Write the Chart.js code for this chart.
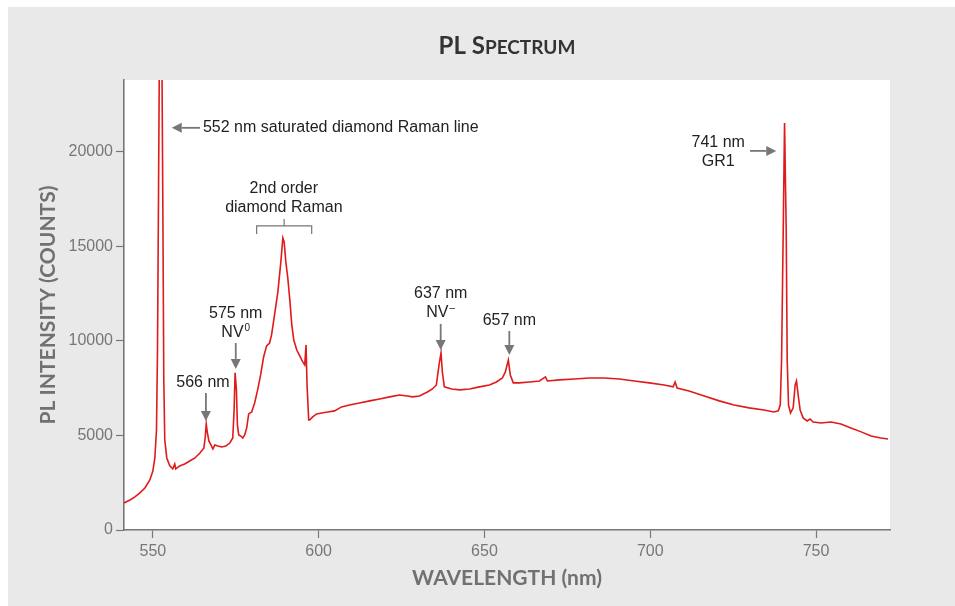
<!DOCTYPE html>
<html>
<head>
<meta charset="utf-8">
<script src="https://cdn.jsdelivr.net/npm/chart.js@4/dist/chart.umd.min.js"></script>
<style>
  html, body { margin: 0; padding: 0; background: #fff; }
  #panel { position: absolute; left: 8px; top: 7px; right: 0; bottom: 0; background: #e9e9e9; }
  #wrap { position: absolute; left: 0; top: 0; width: 955px; height: 606px; }
</style>
</head>
<body>
<div id="panel"></div>
<div id="wrap"><canvas id="plChart" width="955" height="606"></canvas></div>
<script>
// PL spectrum, wavelength (nm) vs counts
const wavelengths = [
  541.3, 543.1, 544.6, 546.1, 547.6, 549.1, 550.0, 550.6, 551.1, 551.4,
  551.7, 552.0, 552.7, 553.0, 553.3, 553.6, 554.2, 555.1, 556.0, 556.6,
  556.9, 558.1, 559.6, 561.1, 562.7, 564.2, 565.4, 565.8, 566.1, 566.4,
  566.9, 567.5, 568.1, 568.7, 569.6, 570.8, 572.0, 573.2, 574.1, 574.5,
  574.8, 575.2, 575.5, 575.9, 576.5, 577.1, 577.7, 578.3, 578.9, 579.8,
  580.7, 581.6, 582.5, 583.4, 584.3, 585.2, 585.8, 586.7, 587.7, 588.6,
  589.2, 589.6, 590.1, 590.7, 591.3, 591.9, 592.5, 593.4, 594.3, 595.2,
  595.8, 596.2, 596.5, 597.0, 597.3, 598.2, 599.4, 600.9, 602.7, 604.8,
  606.9, 609.3, 612.3, 615.4, 618.4, 621.4, 624.4, 626.8, 628.3, 630.4,
  632.8, 634.3, 635.5, 636.3, 636.9, 637.3, 637.9, 640.1, 642.5, 645.5,
  648.5, 651.5, 653.6, 655.4, 656.3, 657.2, 657.8, 658.7, 660.5, 663.6,
  666.6, 668.4, 669.0, 672.6, 677.1, 681.6, 686.1, 690.7, 695.2, 699.7,
  704.2, 706.9, 707.5, 708.1, 711.7, 716.3, 720.8, 725.3, 729.8, 734.3,
  737.3, 738.6, 739.2, 739.6, 740.1, 740.5, 741.0, 741.3, 741.7, 742.3,
  743.1, 743.7, 744.1, 744.6, 745.2, 746.1, 747.3, 748.2, 749.1, 751.5,
  754.5, 757.5, 760.5, 763.6, 766.6, 769.6, 771.7
];
const counts = [
  1430, 1590, 1750, 1960, 2220, 2650, 3120, 3810, 5290, 9520,
  17460, 26000, 26000, 17460, 7940, 4760, 3810, 3390, 3230, 3490,
  3230, 3390, 3490, 3650, 3810, 4070, 4340, 4920, 5610, 5190,
  4710, 4500, 4290, 4500, 4440, 4390, 4440, 4600, 4870, 6350,
  8310, 7410, 5560, 5030, 4970, 4870, 5030, 5400, 6140, 6240,
  6720, 7410, 8200, 9150, 9740, 9890, 10320, 11380, 12590, 14180,
  15450, 15240, 14180, 13330, 12170, 10850, 10050, 9520, 9210, 8890,
  8730, 9790, 7670, 5820, 5820, 5980, 6140, 6190, 6240, 6300,
  6510, 6610, 6720, 6830, 6930, 7040, 7140, 7090, 7040, 7090,
  7300, 7460, 7670, 8730, 9370, 8360, 7570, 7460, 7410, 7460,
  7570, 7670, 7830, 8040, 8360, 8990, 8200, 7780, 7780, 7830,
  7880, 8100, 7880, 7940, 7990, 8040, 8040, 7990, 7880, 7780,
  7670, 7570, 7830, 7510, 7350, 7090, 6830, 6610, 6460, 6350,
  6240, 6300, 6610, 8990, 15870, 21530, 15870, 8990, 6610, 6190,
  6460, 7670, 7880, 7140, 6350, 5930, 5770, 5870, 5710, 5660,
  5710, 5610, 5400, 5190, 4970, 4870, 4810
];
const xTicks = [550, 600, 650, 700, 750];
const yTicks = [0, 5000, 10000, 15000, 20000];

// peak labels, anchored in data units (nm, counts)
const notes = [
  { lines: ['552 nm saturated diamond Raman line'], at: [565.1, 21270], align: 'left',
    arrow: [[564.2, 21270], [555.7, 21270]] },
  { lines: ['566 nm'], at: [565.1, 7780], arrow: [[566.0, 7250], [566.0, 5770]] },
  { lines: ['575 nm', 'NV|0'], at: [575.0, 11430], arrow: [[575.0, 9890], [575.0, 8520]] },
  { lines: ['2nd order', 'diamond Raman'], at: [589.5, 18040] },
  { lines: ['637 nm', 'NV|\u2013'], at: [636.8, 12490], arrow: [[636.8, 10900], [636.8, 9520]] },
  { lines: ['657 nm'], at: [657.5, 11060], arrow: [[657.5, 10530], [657.5, 9260]] },
  { lines: ['741 nm', 'GR1'], at: [720.5, 20480], arrow: [[730.1, 20050], [738.0, 20050]] }
];
const bracket = { from: 581.3, to: 597.9, y: 16085, drop: 425, rise: 370 };

const GREY = '#777';
const INK = '#222';

function arrowTo(ctx, x1, y1, x2, y2) {
  const a = Math.atan2(y2 - y1, x2 - x1);
  const head = 10, half = 5;
  ctx.beginPath();
  ctx.moveTo(x1, y1);
  ctx.lineTo(x2 - head * Math.cos(a), y2 - head * Math.sin(a));
  ctx.stroke();
  ctx.beginPath();
  ctx.moveTo(x2, y2);
  ctx.lineTo(x2 - head * Math.cos(a) + half * Math.sin(a), y2 - head * Math.sin(a) - half * Math.cos(a));
  ctx.lineTo(x2 - head * Math.cos(a) - half * Math.sin(a), y2 - head * Math.sin(a) + half * Math.cos(a));
  ctx.closePath();
  ctx.fill();
}

// text with an optional superscript after '|'
function drawLine(ctx, str, x, y, align) {
  const parts = str.split('|');
  ctx.font = '16px "Liberation Sans", Arial, sans-serif';
  const w1 = ctx.measureText(parts[0]).width;
  let w2 = 0;
  if (parts[1]) {
    ctx.font = '10px "Liberation Sans", Arial, sans-serif';
    w2 = ctx.measureText(parts[1]).width + 1;
  }
  const left = align === 'left' ? x : x - (w1 + w2) / 2;
  ctx.textAlign = 'left';
  ctx.textBaseline = 'middle';
  ctx.font = '16px "Liberation Sans", Arial, sans-serif';
  ctx.fillText(parts[0], left, y);
  if (parts[1]) {
    ctx.font = '10px "Liberation Sans", Arial, sans-serif';
    ctx.fillText(parts[1], left + w1 + 1, y - 5);
  }
}

const backdrop = {
  id: 'backdrop',
  beforeDraw(chart) {
    const { ctx, chartArea: a } = chart;
    ctx.save();
    ctx.fillStyle = '#fff';
    ctx.fillRect(a.left, a.top, a.right - a.left, a.bottom - a.top);
    ctx.restore();
  }
};

// small-caps heading centred over the plot
const heading = {
  id: 'heading',
  afterDraw(chart) {
    const { ctx, chartArea: a } = chart;
    const big = 'bold 24px Lato, sans-serif', small = 'bold 19px Lato, sans-serif';
    const pieces = [['PL S', big], ['PECTRUM', small]];
    ctx.save();
    let total = 0;
    pieces.forEach(p => { ctx.font = p[1]; total += ctx.measureText(p[0]).width; });
    let x = (a.left + a.right) / 2 - total / 2;
    ctx.fillStyle = '#333';
    ctx.textBaseline = 'alphabetic';
    ctx.textAlign = 'left';
    pieces.forEach(p => {
      ctx.font = p[1];
      ctx.fillText(p[0], x, 54);
      x += ctx.measureText(p[0]).width;
    });
    ctx.restore();
  }
};

const labels = {
  id: 'labels',
  afterDatasetsDraw(chart) {
    const { ctx, scales: { x, y } } = chart;
    const px = v => x.getPixelForValue(v), py = v => y.getPixelForValue(v);
    ctx.save();
    ctx.fillStyle = INK;
    notes.forEach(n => {
      n.lines.forEach((s, i) => drawLine(ctx, s, px(n.at[0]), py(n.at[1]) + i * 19, n.align));
    });
    ctx.strokeStyle = GREY;
    ctx.fillStyle = GREY;
    ctx.lineWidth = 1.8;
    notes.filter(n => n.arrow).forEach(n => {
      const [p, q] = n.arrow;
      arrowTo(ctx, px(p[0]), py(p[1]), px(q[0]), py(q[1]));
    });
    // bracket over the 2nd order Raman band
    const bx1 = px(bracket.from), bx2 = px(bracket.to), by = py(bracket.y);
    const mid = (bx1 + bx2) / 2;
    ctx.lineWidth = 1.2;
    ctx.beginPath();
    ctx.moveTo(bx1, py(bracket.y - bracket.drop));
    ctx.lineTo(bx1, by);
    ctx.lineTo(bx2, by);
    ctx.lineTo(bx2, py(bracket.y - bracket.drop));
    ctx.moveTo(mid, by);
    ctx.lineTo(mid, py(bracket.y + bracket.rise));
    ctx.stroke();
    ctx.restore();
  }
};

const axisFont = { family: '"Liberation Sans", Arial, sans-serif', size: 16 };
const titleFont = { family: 'Lato, sans-serif', size: 21, weight: 'bold' };

new Chart(document.getElementById('plChart'), {
  type: 'line',
  data: {
    datasets: [{
      data: wavelengths.map((w, i) => ({ x: w, y: counts[i] })),
      borderColor: '#e01a1a',
      borderWidth: 1.6,
      pointRadius: 0,
      tension: 0
    }]
  },
  options: {
    responsive: false,
    animation: false,
    layout: { padding: { top: 80, right: 65, left: 0, bottom: 0 } },
    plugins: { legend: { display: false }, tooltip: { enabled: false } },
    scales: {
      x: {
        type: 'linear',
        min: 541.3,
        max: 772.3,
        afterBuildTicks: s => { s.ticks = xTicks.map(v => ({ value: v })); },
        afterFit: s => { s.height = 76; },
        grid: { drawOnChartArea: false, tickLength: 8, color: GREY, tickWidth: 1.2 },
        border: { color: GREY, width: 1.6 },
        ticks: { color: GREY, font: axisFont, padding: 4, callback: v => String(v) },
        title: { display: true, text: 'WAVELENGTH (nm)', color: '#717171', font: titleFont,
                 padding: { top: 0, bottom: 15 } }
      },
      y: {
        min: 0,
        max: 23800,
        afterBuildTicks: s => { s.ticks = yTicks.map(v => ({ value: v })); },
        afterFit: s => { s.width = 124; },
        grid: { drawOnChartArea: false, tickLength: 8, color: GREY, tickWidth: 1.2 },
        border: { color: GREY, width: 1.6 },
        ticks: { color: GREY, font: axisFont, padding: 3, callback: v => String(v) },
        title: { display: true, text: 'PL INTENSITY (COUNTS)', color: '#717171', font: titleFont,
                 padding: { top: 36, bottom: 0 } }
      }
    }
  },
  plugins: [backdrop, labels, heading]
});
</script>
</body>
</html>
